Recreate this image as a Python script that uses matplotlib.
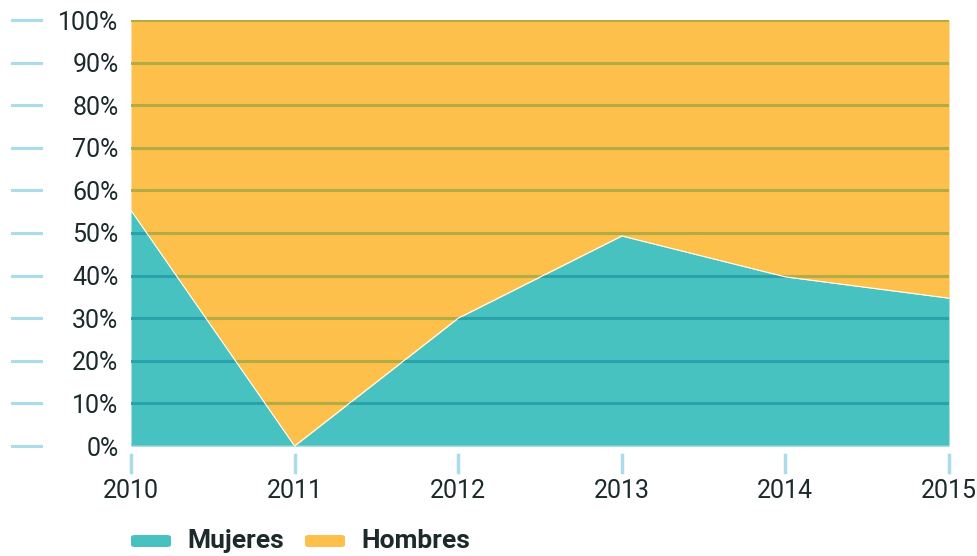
import matplotlib
matplotlib.use("Agg")
import matplotlib.pyplot as plt
from matplotlib.patches import FancyBboxPatch
from matplotlib.lines import Line2D
import numpy as np

years = [2010, 2011, 2012, 2013, 2014, 2015]
mujeres = [55.3, 0.0, 30.0, 49.3, 39.7, 34.7]
hombres = [100 - v for v in mujeres]
y_ticks = [0, 10, 20, 30, 40, 50, 60, 70, 80, 90, 100]
y_labels = [f"{v}%" for v in y_ticks]

TEAL = "#48c2c0"
YELLOW = "#fdc04a"
GRID_ON_TEAL = "#2ba1a9"
GRID_ON_YELLOW = "#b3ab45"
TICK_COL = "#abdceb"
TEXT_COL = "#1c2a2c"

plt.rcParams['font.family'] = ['Roboto', 'DejaVu Sans']

fig = plt.figure(figsize=(9.77, 5.56), dpi=100)
ax = fig.add_axes([131/977, 1-446/556, 818/977, 426/556])

x = np.array(years, dtype=float)
m = np.array(mujeres)
h = np.array(hombres)

teal_poly = ax.fill_between(x, 0, m, color=TEAL, linewidth=0, zorder=1)
yel_poly = ax.fill_between(x, m, m + h, color=YELLOW, linewidth=0, zorder=1)
ax.plot(x, m, color="white", lw=0.8, zorder=3)

ax.set_xlim(years[0], years[-1])
ax.set_ylim(0, 100)

# grid lines, coloured per region
for yv in y_ticks:
    l1 = ax.axhline(yv, color=GRID_ON_TEAL, lw=2.2, zorder=2)
    l1.set_clip_path(teal_poly.get_paths()[0], ax.transData)
    l2 = ax.axhline(yv, color=GRID_ON_YELLOW, lw=2.2, zorder=2)
    l2.set_clip_path(yel_poly.get_paths()[0], ax.transData)

for s in ax.spines.values():
    s.set_visible(False)
ax.axhline(0, color="#8fd3dc", lw=1.2, zorder=2.5)

ax.set_yticks(y_ticks)
ax.set_yticklabels(y_labels)
ax.set_xticks(years)
ax.set_xticklabels([str(y) for y in years])
ax.tick_params(axis='y', length=0, pad=9, labelsize=18, labelcolor=TEXT_COL)
ax.tick_params(axis='x', length=0, pad=24, labelsize=18, labelcolor=TEXT_COL)

ytr = ax.get_yaxis_transform()
for yv in y_ticks:
    ax.add_line(Line2D([-119/818, -90/818], [yv, yv], transform=ytr,
                       color=TICK_COL, lw=2.2, clip_on=False))
xtr = ax.get_xaxis_transform()
for xv in years:
    ax.add_line(Line2D([xv, xv], [-9/426, -26/426], transform=xtr,
                       color=TICK_COL, lw=2.5, clip_on=False))

# legend
def legend_item(x0, color, label):
    p = FancyBboxPatch((x0/977, 1-547/556), 40/977, 12/556,
                       boxstyle="round,pad=0,rounding_size=0.004",
                       transform=fig.transFigure, color=color, lw=0)
    fig.patches.append(p)
    fig.text((x0+56)/977, 1-541/556, label, fontsize=19, fontweight='bold',
             color=TEXT_COL, va='center', ha='left')

legend_item(131, TEAL, "Mujeres")
legend_item(305, YELLOW, "Hombres")

fig.savefig("out.png", dpi=100)
